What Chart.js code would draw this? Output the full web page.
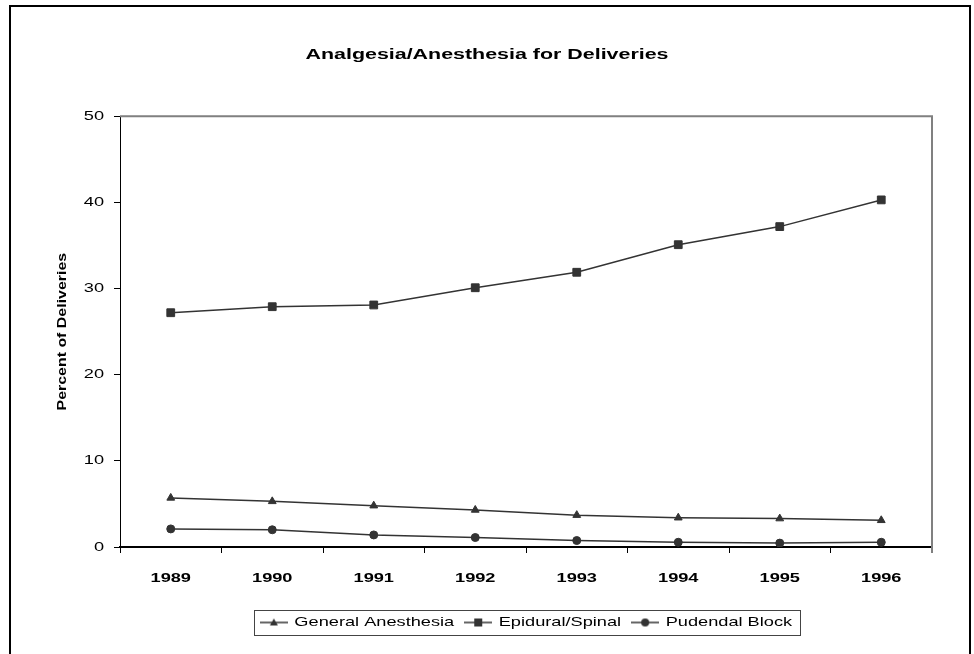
<!DOCTYPE html>
<html>
<head>
<meta charset="utf-8">
<script src="https://cdn.jsdelivr.net/npm/chart.js@4.4.1/dist/chart.umd.min.js"></script>
<style>
  body { margin: 0; background: #fff; }
  #wrap { position: relative; width: 974px; height: 654px; overflow: hidden; }
  #frame { position: absolute; left: 9px; top: 5px; width: 962px; height: 700px; border: 2px solid #000; box-sizing: border-box; }
  canvas { position: absolute; left: 0; top: 0; }
</style>
</head>
<body>
<div id="wrap">
  <div id="frame"></div>
  <canvas id="grafica" width="974" height="654"></canvas>
</div>
<script>
// Data
const years = ["1989", "1990", "1991", "1992", "1993", "1994", "1995", "1996"];
const general = [5.7, 5.3, 4.8, 4.3, 3.7, 3.4, 3.3, 3.1];
const epidural = [27.2, 27.9, 28.1, 30.1, 31.9, 35.1, 37.2, 40.3];
const pudendal = [2.1, 2.0, 1.4, 1.1, 0.75, 0.55, 0.45, 0.55];
const yTicks = [0, 10, 20, 30, 40, 50];

const FONT = "'Liberation Sans', Arial, sans-serif";
const INK = "#333333";
const STRETCH = 1.4;      // the original text looks stretched along its line
const STRETCH_ROT = 1.18; // rotated axis title is stretched less

const canvas = document.getElementById("grafica");
const ctx = canvas.getContext("2d");

// stretch every piece of text along its own direction
const baseFill = ctx.fillText.bind(ctx);
ctx.fillText = function (text, x, y) {
    const rotated = Math.abs(this.getTransform().b) > 0.01;
    this.save();
    this.translate(x, y);
    this.scale(rotated ? STRETCH_ROT : STRETCH, 1);
    baseFill(text, 0, 0);
    this.restore();
};
const baseMeasure = ctx.measureText.bind(ctx);
ctx.measureText = function (text) {
    const m = baseMeasure(text);
    return {
        width: m.width * STRETCH,
        actualBoundingBoxAscent: m.actualBoundingBoxAscent,
        actualBoundingBoxDescent: m.actualBoundingBoxDescent
    };
};

// little legend symbols: line with marker
function simbolo(tipo) {
    const c = document.createElement("canvas");
    c.width = 28;
    c.height = 12;
    const g = c.getContext("2d");
    g.strokeStyle = INK;
    g.fillStyle = INK;
    g.lineWidth = 1.5;
    g.beginPath();
    g.moveTo(0, 6);
    g.lineTo(28, 6);
    g.stroke();
    g.beginPath();
    if (tipo === "triangle") {
        g.moveTo(14, 2);
        g.lineTo(18, 9);
        g.lineTo(10, 9);
        g.closePath();
    } else if (tipo === "rect") {
        g.rect(10, 2, 8, 8);
    } else {
        g.arc(14, 6, 4, 0, Math.PI * 2);
    }
    g.fill();
    return c;
}
const legendSyms = [simbolo("triangle"), simbolo("rect"), simbolo("circle")];

// gray plot frame (top and right) + legend box
const marcos = {
    id: "marcos",
    beforeDatasetsDraw(chart) {
        const a = chart.chartArea;
        const c = chart.ctx;
        c.save();
        c.strokeStyle = "#808080";
        c.lineWidth = 2;
        c.beginPath();
        c.moveTo(a.left, a.top);
        c.lineTo(a.right, a.top);
        c.lineTo(a.right, a.bottom + 6);
        c.stroke();
        c.restore();
    },
    afterDraw(chart) {
        const boxes = chart.legend.legendHitBoxes;
        if (!boxes || !boxes.length) return;
        const first = boxes[0];
        const last = boxes[boxes.length - 1];
        const c = chart.ctx;
        c.save();
        c.strokeStyle = "#444";
        c.lineWidth = 1;
        const l = Math.round(first.left - 6) + 0.5;
        const r = Math.round(last.left + last.width + 8) + 0.5;
        const t = Math.round(first.top - 6) + 0.5;
        const b = Math.round(first.top + first.height + 6) + 0.5;
        c.strokeRect(l, t, r - l, b - t);
        c.restore();
    }
};

Chart.defaults.color = "#000";
Chart.defaults.font.family = FONT;

new Chart(ctx, {
    type: "line",
    data: {
        labels: years,
        datasets: [
            {
                label: "General Anesthesia",
                data: general,
                borderColor: INK,
                borderWidth: 1.5,
                pointStyle: "triangle",
                pointRadius: 4.5,
                pointBackgroundColor: INK,
                pointBorderColor: INK,
                pointBorderWidth: 1
            },
            {
                label: "Epidural/Spinal",
                data: epidural,
                borderColor: INK,
                borderWidth: 1.5,
                pointStyle: "rect",
                pointRadius: 5.5,
                pointBackgroundColor: INK,
                pointBorderColor: INK,
                pointBorderWidth: 1
            },
            {
                label: "Pudendal Block",
                data: pudendal,
                borderColor: INK,
                borderWidth: 1.5,
                pointStyle: "circle",
                pointRadius: 4,
                pointBackgroundColor: INK,
                pointBorderColor: INK,
                pointBorderWidth: 1
            }
        ]
    },
    options: {
        responsive: false,
        animation: false,
        layout: { padding: { left: 42, right: 42, top: 0, bottom: 15 } },
        plugins: {
            title: {
                display: true,
                text: "Analgesia/Anesthesia for Deliveries",
                font: { size: 15.3, weight: "bold", family: FONT },
                color: "#000",
                padding: { top: 46, bottom: 52 }
            },
            legend: {
                position: "bottom",
                fullSize: false,
                labels: {
                    usePointStyle: true,
                    pointStyleWidth: 28,
                    padding: 10,
                    color: "#000",
                    font: { size: 13, family: FONT },
                    generateLabels: chart =>
                        Chart.defaults.plugins.legend.labels.generateLabels(chart)
                            .map((item, i) => ({ ...item, pointStyle: legendSyms[i] }))
                }
            },
            tooltip: { enabled: false }
        },
        scales: {
            x: {
                offset: true,
                grid: { offset: true, drawOnChartArea: false, color: "#000", tickLength: 6 },
                border: { color: "#000", width: 2 },
                ticks: { padding: 18, font: { size: 13, weight: "bold" }, color: "#000" },
                afterFit: s => { s.height = 59; }
            },
            y: {
                min: 0,
                max: 50,
                afterBuildTicks: s => { s.ticks = yTicks.map(v => ({ value: v })); },
                grid: { drawOnChartArea: false, color: "#000", tickLength: 6 },
                border: { color: "#000", width: 1 },
                ticks: { padding: 10, font: { size: 13 }, color: "#000" },
                title: {
                    display: true,
                    text: "Percent of Deliveries",
                    font: { size: 13.5, weight: "bold" },
                    color: "#000",
                    padding: { top: 12, bottom: 0 }
                },
                afterFit: s => { s.width = 78; }
            }
        }
    },
    plugins: [marcos]
});
</script>
</body>
</html>
